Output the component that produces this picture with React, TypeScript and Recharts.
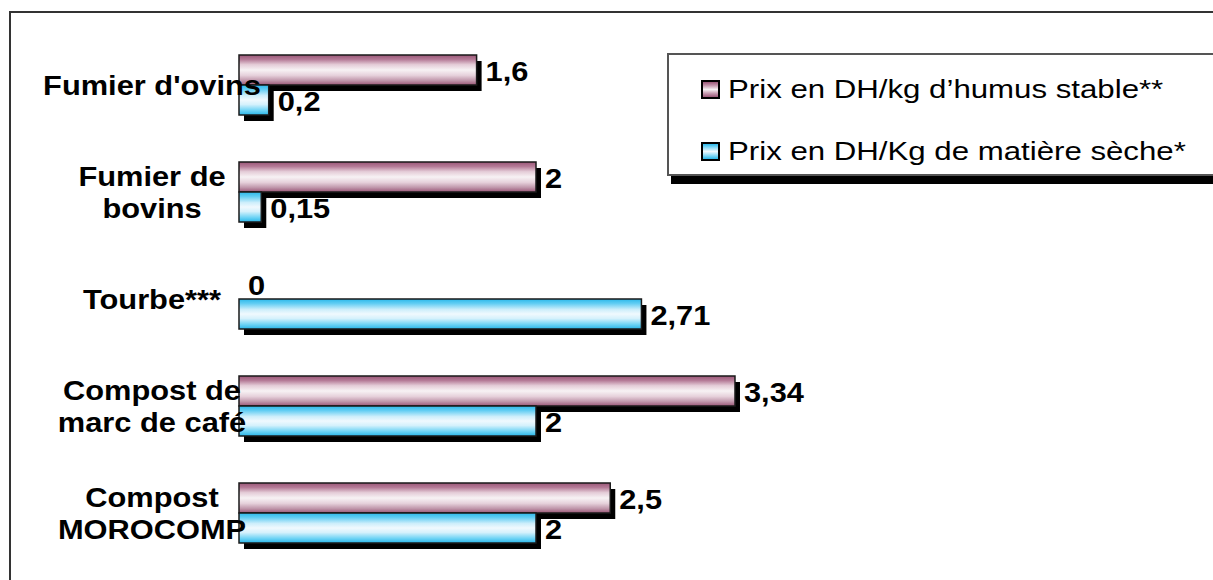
import { Bar, BarChart, LabelList, Legend, XAxis, YAxis } from "recharts";

// values (DH per kg)
const categories = ["Fumier d'ovins", "Fumier de bovins", "Tourbe***", "Compost de marc de café", "Compost MOROCOMP"];
const categoryLines = [["Fumier d'ovins"], ["Fumier de", "bovins"], ["Tourbe***"], ["Compost de", "marc de café"], ["Compost", "MOROCOMP"]];
const humusPrice = [1.6, 2, 0, 3.34, 2.5];
const dryMatterPrice = [0.2, 0.15, 2.71, 2, 2];
const seriesNames = ["Prix en DH/kg d\u2019humus stable**", "Prix en DH/Kg de matière sèche*"];

const data = categories.map((name, i) => ({ name, humus: humusPrice[i], dry: dryMatterPrice[i] }));

const FONT = '"Liberation Sans", Arial, sans-serif';
const STRETCH = 1.1;

const pinkCss = "linear-gradient(#9a5677, #c79cb1 25%, #f7f2f4 50%, #c79cb1 75%, #9a5677)";
const cyanCss = "linear-gradient(#2bb8ea, #8fdcf7 25%, #f0f9fe 50%, #8fdcf7 75%, #2bb8ea)";

function ShadowBar(props: any) {
  const { x, y, width, height, gradient } = props;
  if (!width || width <= 0) return null;
  return (
    <g>
      <rect x={x + 5} y={y + 6} width={width} height={height} fill="#000" />
      <rect x={x} y={y} width={width} height={height} fill={`url(#${gradient})`} stroke="#1a1a1a" strokeWidth={1.5} />
    </g>
  );
}

function valueLabel(props: any) {
  const { x, y, width, height, value } = props;
  return (
    <text
      transform={`translate(${x + width + 9}, ${y + height / 2 + 11}) scale(${STRETCH}, 1)`}
      fontFamily={FONT}
      fontWeight="bold"
      fontSize={28}
      fill="#000"
    >
      {String(value).replace(".", ",")}
    </text>
  );
}

function CategoryTick(props: any) {
  const { y, payload } = props;
  const lines = categoryLines[payload.index] || [payload.value];
  return (
    <g transform={`translate(152, ${y})`}>
      {lines.map((line, i) => (
        <text
          key={i}
          transform={`translate(0, ${10 + (i - (lines.length - 1) / 2) * 32}) scale(${STRETCH}, 1)`}
          textAnchor="middle"
          fontFamily={FONT}
          fontWeight="bold"
          fontSize={28}
          fill="#000"
        >
          {line}
        </text>
      ))}
    </g>
  );
}

function LegendBox() {
  const items = [
    { label: seriesNames[0], bg: pinkCss },
    { label: seriesNames[1], bg: cyanCss },
  ];
  return (
    <div
      style={{
        width: 600,
        height: 123,
        border: "2px solid #555",
        background: "#fff",
        boxShadow: "4px 8px 0 #000",
        boxSizing: "border-box",
        position: "relative",
      }}
    >
      {items.map((it, i) => (
        <div
          key={i}
          style={{ position: "absolute", left: 32, top: 22 + i * 62, height: 24, display: "flex", alignItems: "center" }}
        >
          <div style={{ width: 15, height: 15, border: "2px solid #000", background: it.bg }} />
          <span
            style={{
              marginLeft: 8,
              fontFamily: FONT,
              fontSize: 26,
              color: "#000",
              whiteSpace: "nowrap",
              display: "inline-block",
              transform: "scaleX(1.2)",
              transformOrigin: "left center",
            }}
          >
            {it.label}
          </span>
        </div>
      ))}
    </div>
  );
}

export default function App() {
  return (
    <div style={{ position: "fixed", left: 0, top: 0, width: 1213, height: 580, overflow: "hidden", background: "#fff" }}>
      <div
        style={{
          position: "absolute",
          left: 9,
          top: 11,
          width: 1400,
          height: 800,
          borderLeft: "2px solid #333",
          borderTop: "2px solid #333",
        }}
      />
      <BarChart
        width={1213}
        height={580}
        data={data}
        layout="vertical"
        margin={{ top: 31, right: 380, bottom: 14, left: 0 }}
        barSize={30}
        barGap={0}
        style={{ position: "absolute", left: 0, top: 0 }}
      >
        <defs>
          <linearGradient id="pinkGrad" x1="0" y1="0" x2="0" y2="1">
            <stop offset="0" stopColor="#9a5677" />
            <stop offset="0.15" stopColor="#b57b97" />
            <stop offset="0.32" stopColor="#e4ccd7" />
            <stop offset="0.5" stopColor="#f7f2f4" />
            <stop offset="0.68" stopColor="#e6d1db" />
            <stop offset="0.85" stopColor="#c097ab" />
            <stop offset="1" stopColor="#9a5677" />
          </linearGradient>
          <linearGradient id="cyanGrad" x1="0" y1="0" x2="0" y2="1">
            <stop offset="0" stopColor="#2bb8ea" />
            <stop offset="0.15" stopColor="#62cdf3" />
            <stop offset="0.35" stopColor="#cdeefb" />
            <stop offset="0.5" stopColor="#f0f9fe" />
            <stop offset="0.65" stopColor="#d5f1fc" />
            <stop offset="0.85" stopColor="#6dd3f5" />
            <stop offset="1" stopColor="#28b5e8" />
          </linearGradient>
        </defs>
        <XAxis type="number" domain={[0, 4]} hide />
        <YAxis
          type="category"
          dataKey="name"
          width={239}
          axisLine={false}
          tickLine={false}
          tick={<CategoryTick />}
          interval={0}
        />
        <Legend
          layout="horizontal"
          verticalAlign="middle"
          content={() => <LegendBox />}
          wrapperStyle={{ position: "absolute", left: 667, top: 53, width: 600, height: 123 }}
        />
        <Bar
          dataKey="humus"
          name={seriesNames[0]}
          isAnimationActive={false}
          shape={(p: any) => <ShadowBar {...p} gradient="pinkGrad" />}
        >
          <LabelList dataKey="humus" content={valueLabel} />
        </Bar>
        <Bar
          dataKey="dry"
          name={seriesNames[1]}
          isAnimationActive={false}
          shape={(p: any) => <ShadowBar {...p} gradient="cyanGrad" />}
        >
          <LabelList dataKey="dry" content={valueLabel} />
        </Bar>
      </BarChart>
    </div>
  );
}
